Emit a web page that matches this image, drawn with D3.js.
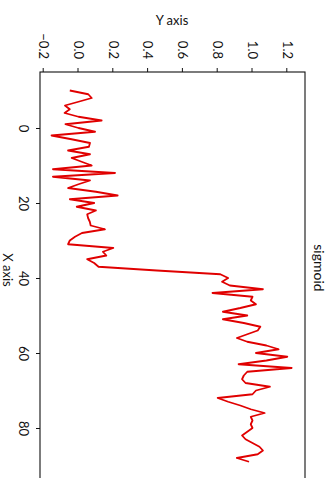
<!DOCTYPE html>
<html><head><meta charset="utf-8">
<script src="https://cdn.jsdelivr.net/npm/d3@7"></script>
<style>html,body{margin:0;padding:0;background:#fff;overflow:hidden}</style>
</head><body><svg id="c" width="332" height="478"></svg>
<script>
const xValues = [-10,-9,-8,-7,-6,-5,-4,-3,-2,-1,0,1,2,3,4,5,6,7,8,9,10,11,12,13,14,15,16,17,18,19,
  20,21,22,23,24,25,26,27,28,29,30,31,32,33,34,35,36,37,38,39,40,41,42,43,44,45,46,47,48,49,
  50,51,52,53,54,55,56,57,58,59,60,61,62,63,64,65,66,67,68,69,70,71,72,73,74,75,76,77,78,79,
  80,81,82,83,84,85,86,87,88,89];
const yValues = [-0.05,0.056,0.076,0.0,-0.078,-0.05,-0.08,0.0,0.133,-0.075,
  0.0,0.095,-0.155,-0.04,0.066,0.06,-0.06,0.066,-0.039,0.018,
  0.076,-0.147,0.21,-0.147,0.066,0.0,-0.06,0.1,0.225,-0.05,
  0.09,-0.01,0.1,0.05,0.055,0.065,0.07,0.152,0.02,-0.02,
  -0.05,-0.06,0.2,0.14,0.16,0.05,0.09,0.115,0.45,0.815,
  0.86,0.825,0.87,1.06,0.77,1.0,0.99,1.02,0.93,0.83,
  0.97,0.83,0.95,1.045,1.03,0.97,0.91,0.97,1.08,1.15,
  1.02,1.2,1.08,0.92,1.225,0.97,0.95,0.94,0.96,1.1,
  1.02,1.0,0.8,0.86,0.93,0.99,1.07,0.99,1.0,0.99,
  1.0,0.97,0.94,0.96,1.0,1.04,1.06,1.03,0.91,0.98];
const xTicks = [0, 20, 40, 60, 80];
const yTicks = [-0.2, 0.0, 0.2, 0.4, 0.6, 0.8, 1.0, 1.2];
const title = "sigmoid", xLabel = "X axis", yLabel = "Y axis";

const FONT = "Lato, 'Open Sans', sans-serif";
const svg = d3.select("#c");
// chart is drawn in its own orientation, then turned 90deg clockwise
const g = svg.append("g").attr("transform", "translate(332,0) rotate(90)");

const pLeft = 72, pRight = 490, pTop = 27, pBottom = 292;
const x = d3.scaleLinear().domain([0, 80]).range([128, 428]);
const y = d3.scaleLinear().domain([0, 1.2]).range([253.5, 44.7]);

g.append("rect").attr("x", pLeft).attr("y", pTop).attr("width", pRight - pLeft).attr("height", pBottom - pTop)
  .attr("fill", "#fff").attr("stroke", "#111").attr("stroke-width", 1.1);

const ya = g.append("g").attr("transform", `translate(${pLeft},0)`)
  .call(d3.axisLeft(y).tickValues(yTicks).tickFormat(d3.format(".1f")).tickSize(4).tickSizeOuter(0).tickPadding(9));
const xa = g.append("g").attr("transform", `translate(0,${pBottom})`)
  .call(d3.axisBottom(x).tickValues(xTicks).tickSize(4).tickSizeOuter(0).tickPadding(8));
[ya, xa].forEach(a => {
  a.select(".domain").remove();
  a.selectAll("line").attr("stroke", "#111");
  a.selectAll("text").attr("font-family", FONT).attr("font-size", 13).attr("fill", "#111");
});

const line = d3.line().x((d, i) => x(xValues[i])).y(d => y(d));
g.append("path").datum(yValues).attr("d", line).attr("fill", "none")
  .attr("stroke", "#e00000").attr("stroke-width", 1.8).attr("stroke-linejoin", "round");

g.append("text").attr("x", 268).attr("y", 18).attr("text-anchor", "middle")
  .attr("font-family", FONT).attr("font-size", 14).attr("fill", "#111").text(title);
g.append("text").attr("x", 270).attr("y", 329).attr("text-anchor", "middle")
  .attr("font-family", FONT).attr("font-size", 13).attr("fill", "#111").text(xLabel);
g.append("text").attr("transform", "translate(25,160) rotate(-90)").attr("text-anchor", "middle")
  .attr("font-family", FONT).attr("font-size", 13).attr("fill", "#111").text(yLabel);
</script></body></html>
